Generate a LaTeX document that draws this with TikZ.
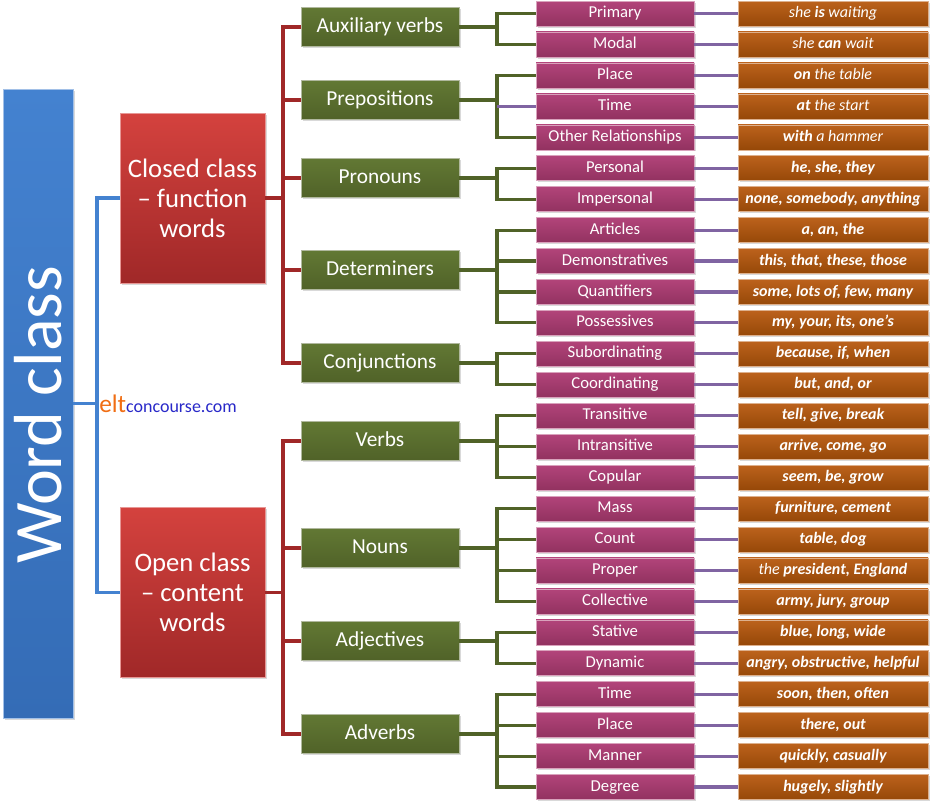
\documentclass[tikz,border=0pt]{standalone}
\usepackage{fontspec}
\setmainfont{Carlito}
\usetikzlibrary{positioning, shadows}
\definecolor{wcblue}{RGB}{52,108,182}
\definecolor{wcbluetop}{RGB}{68,130,208}
\definecolor{classred}{RGB}{160,40,40}
\definecolor{classredtop}{RGB}{212,66,62}
\definecolor{typegreen}{RGB}{80,98,40}
\definecolor{typegreentop}{RGB}{98,120,52}
\definecolor{subpink}{RGB}{146,50,96}
\definecolor{subpinktop}{RGB}{178,68,122}
\definecolor{exorange}{RGB}{150,72,8}
\definecolor{exorangetop}{RGB}{188,98,28}
\definecolor{linepurple}{RGB}{128,100,162}
\definecolor{eltorange}{RGB}{240,110,20}
\definecolor{eltblue}{RGB}{40,40,200}
\newcommand{\lite}[1]{\textmd{#1}}

\begin{document}
\begin{tikzpicture}[
        x=0.75pt, y=-0.75pt,
        node distance=33pt, % orange examples sit 44px right of the pink ones
        box/.style={inner sep=0pt, outer sep=0pt, text=white, align=center,
            drop shadow={shadow xshift=1.2pt, shadow yshift=-1.2pt, opacity=0.3}},
        wordbox/.style={box, top color=wcbluetop, bottom color=wcblue, draw=wcbluetop!50!white,
            minimum width=471.75pt, minimum height=52.5pt, font=\fontsize{51}{53}\selectfont},
        classbox/.style={box, top color=classredtop, bottom color=classred, draw=classredtop!55!white,
            minimum width=108.75pt, minimum height=127.5pt, font=\fontsize{20}{22.5}\selectfont},
        typebox/.style={box, top color=typegreentop, bottom color=typegreen, draw=typegreen!45!white,
            minimum width=118.5pt, minimum height=29.25pt, text height=11pt, text depth=3.5pt,
            font=\fontsize{16}{18}\selectfont},
        subbox/.style={box, top color=subpinktop, bottom color=subpink, draw=subpinktop!50!white,
            minimum width=118.5pt, minimum height=18.75pt, text height=9pt, text depth=3pt,
            font=\fontsize{12.5}{14}\selectfont},
        exbox/.style={box, top color=exorangetop, bottom color=exorange, draw=exorangetop!50!white,
            minimum width=142.5pt, minimum height=18.75pt, text height=9pt, text depth=3pt,
            font=\fontsize{12}{14}\selectfont\bfseries\itshape},
        blueline/.style={draw=wcbluetop, line width=2.3pt},
        redline/.style={draw=classred, line width=2.3pt},
        greenline/.style={draw=typegreen, line width=2.3pt},
        purpleline/.style={draw=linepurple, line width=2.3pt}
    ]
        \useasboundingbox (0,0) rectangle (930,804);

        % --- Root ---
        \node[wordbox, rotate=90] (word) at (38,403.5) {Word class\hspace*{17pt}};
        \node[anchor=west, inner sep=0pt] (site) at (99,404)
            {\fontsize{19}{20}\selectfont\color{eltorange}elt\fontsize{13.5}{15}\selectfont\color{eltblue}concourse.com};

        % --- Closed and open class ---
        \node[classbox] (closed) at (192.5,198) {Closed class\\– function\\words};
        \node[classbox] (open) at (192.5,592.5) {Open class\\– content\\words};
        \draw[blueline] (word.south) -- ++(24,0) |- (closed.west);
        \draw[blueline] (word.south) -- ++(24,0) |- (open.west);

        % --- Word types ---
        \node[typebox] (aux) at (380,27) {Auxiliary verbs};
        \node[typebox] (prep) at (380,100) {Prepositions};
        \node[typebox] (pron) at (380,178) {Pronouns};
        \node[typebox] (det) at (380,270) {Determiners};
        \node[typebox] (conj) at (380,363) {Conjunctions};
        \node[typebox] (verb) at (380,441) {Verbs};
        \node[typebox] (noun) at (380,548) {Nouns};
        \node[typebox] (adj) at (380,641) {Adjectives};
        \node[typebox] (adv) at (380,734) {Adverbs};

        \draw[redline] (closed.east) -- ++(18,0) |- (aux.west);
        \draw[redline] (closed.east) -- ++(18,0) |- (prep.west);
        \draw[redline] (closed.east) -- ++(18,0) |- (pron.west);
        \draw[redline] (closed.east) -- ++(18,0) |- (det.west);
        \draw[redline] (closed.east) -- ++(18,0) |- (conj.west);
        \draw[redline] (open.east) -- ++(18,0) |- (verb.west);
        \draw[redline] (open.east) -- ++(18,0) |- (noun.west);
        \draw[redline] (open.east) -- ++(18,0) |- (adj.west);
        \draw[redline] (open.east) -- ++(18,0) |- (adv.west);

        % --- Subtypes and examples ---
        \node[subbox] (sPrimary) at (615,13.5) {Primary};
        \node[exbox, right=of sPrimary] (ePrimary) {\lite{she} is \lite{waiting}};
        \node[subbox] (sModal) at (615,44.4) {Modal};
        \node[exbox, right=of sModal] (eModal) {\lite{she} can \lite{wait}};
        \node[subbox] (sPlace) at (615,75.4) {Place};
        \node[exbox, right=of sPlace] (ePlace) {on \lite{the table}};
        \node[subbox] (sTime) at (615,106.3) {Time};
        \node[exbox, right=of sTime] (eTime) {at \lite{the start}};
        \node[subbox] (sOther) at (615,137.3) {Other Relationships};
        \node[exbox, right=of sOther] (eOther) {with \lite{a hammer}};
        \node[subbox] (sPersonal) at (615,168.2) {Personal};
        \node[exbox, right=of sPersonal] (ePersonal) {he, she, they};
        \node[subbox] (sImpersonal) at (615,199.1) {Impersonal};
        \node[exbox, right=of sImpersonal] (eImpersonal) {none, somebody, anything};
        \node[subbox] (sArticles) at (615,230.1) {Articles};
        \node[exbox, right=of sArticles] (eArticles) {a, an, the};
        \node[subbox] (sDemonstr) at (615,261.0) {Demonstratives};
        \node[exbox, right=of sDemonstr] (eDemonstr) {this, that, these, those};
        \node[subbox] (sQuant) at (615,292.0) {Quantifiers};
        \node[exbox, right=of sQuant] (eQuant) {some, lots of, few, many};
        \node[subbox] (sPossess) at (615,322.9) {Possessives};
        \node[exbox, right=of sPossess] (ePossess) {my, your, its, one's};
        \node[subbox] (sSubord) at (615,353.8) {Subordinating};
        \node[exbox, right=of sSubord] (eSubord) {because, if, when};
        \node[subbox] (sCoord) at (615,384.8) {Coordinating};
        \node[exbox, right=of sCoord] (eCoord) {but, and, or};
        \node[subbox] (sTrans) at (615,415.7) {Transitive};
        \node[exbox, right=of sTrans] (eTrans) {tell, give, break};
        \node[subbox] (sIntrans) at (615,446.7) {Intransitive};
        \node[exbox, right=of sIntrans] (eIntrans) {arrive, come, go};
        \node[subbox] (sCopular) at (615,477.6) {Copular};
        \node[exbox, right=of sCopular] (eCopular) {seem, be, grow};
        \node[subbox] (sMass) at (615,508.5) {Mass};
        \node[exbox, right=of sMass] (eMass) {furniture, cement};
        \node[subbox] (sCount) at (615,539.5) {Count};
        \node[exbox, right=of sCount] (eCount) {table, dog};
        \node[subbox] (sProper) at (615,570.4) {Proper};
        \node[exbox, right=of sProper] (eProper) {\lite{the} president, England};
        \node[subbox] (sCollect) at (615,601.4) {Collective};
        \node[exbox, right=of sCollect] (eCollect) {army, jury, group};
        \node[subbox] (sStative) at (615,632.3) {Stative};
        \node[exbox, right=of sStative] (eStative) {blue, long, wide};
        \node[subbox] (sDynamic) at (615,663.2) {Dynamic};
        \node[exbox, right=of sDynamic] (eDynamic) {angry, obstructive, helpful};
        \node[subbox] (sAdvTime) at (615,694.2) {Time};
        \node[exbox, right=of sAdvTime] (eAdvTime) {soon, then, often};
        \node[subbox] (sAdvPlace) at (615,725.1) {Place};
        \node[exbox, right=of sAdvPlace] (eAdvPlace) {there, out};
        \node[subbox] (sManner) at (615,756.1) {Manner};
        \node[exbox, right=of sManner] (eManner) {quickly, casually};
        \node[subbox] (sDegree) at (615,787.0) {Degree};
        \node[exbox, right=of sDegree] (eDegree) {hugely, slightly};

        % type -> subtype forks
        \draw[greenline] (aux.east) -- ++(38,0) |- (sPrimary.west);
        \draw[greenline] (aux.east) -- ++(38,0) |- (sModal.west);
        \draw[greenline] (prep.east) -- ++(38,0) |- (sPlace.west);
        \draw[greenline] (prep.east) -- ++(38,0) |- (sOther.west);
        \draw[purpleline] (sTime.west) -- ++(-39,0);
        \draw[greenline] (pron.east) -- ++(38,0) |- (sPersonal.west);
        \draw[greenline] (pron.east) -- ++(38,0) |- (sImpersonal.west);
        \draw[greenline] (det.east) -- ++(38,0) |- (sArticles.west);
        \draw[greenline] (det.east) -- ++(38,0) |- (sDemonstr.west);
        \draw[greenline] (det.east) -- ++(38,0) |- (sQuant.west);
        \draw[greenline] (det.east) -- ++(38,0) |- (sPossess.west);
        \draw[greenline] (conj.east) -- ++(38,0) |- (sSubord.west);
        \draw[greenline] (conj.east) -- ++(38,0) |- (sCoord.west);
        \draw[greenline] (verb.east) -- ++(38,0) |- (sTrans.west);
        \draw[greenline] (verb.east) -- ++(38,0) |- (sIntrans.west);
        \draw[greenline] (verb.east) -- ++(38,0) |- (sCopular.west);
        \draw[greenline] (noun.east) -- ++(38,0) |- (sMass.west);
        \draw[greenline] (noun.east) -- ++(38,0) |- (sCount.west);
        \draw[greenline] (noun.east) -- ++(38,0) |- (sProper.west);
        \draw[greenline] (noun.east) -- ++(38,0) |- (sCollect.west);
        \draw[greenline] (adj.east) -- ++(38,0) |- (sStative.west);
        \draw[greenline] (adj.east) -- ++(38,0) |- (sDynamic.west);
        \draw[greenline] (adv.east) -- ++(38,0) |- (sAdvTime.west);
        \draw[greenline] (adv.east) -- ++(38,0) |- (sAdvPlace.west);
        \draw[greenline] (adv.east) -- ++(38,0) |- (sManner.west);
        \draw[greenline] (adv.east) -- ++(38,0) |- (sDegree.west);

        % subtype -> example links
        \draw[purpleline] (sPrimary) -- (ePrimary);
        \draw[purpleline] (sModal) -- (eModal);
        \draw[purpleline] (sPlace) -- (ePlace);
        \draw[purpleline] (sTime) -- (eTime);
        \draw[purpleline] (sOther) -- (eOther);
        \draw[purpleline] (sPersonal) -- (ePersonal);
        \draw[purpleline] (sImpersonal) -- (eImpersonal);
        \draw[purpleline] (sArticles) -- (eArticles);
        \draw[purpleline] (sDemonstr) -- (eDemonstr);
        \draw[purpleline] (sQuant) -- (eQuant);
        \draw[purpleline] (sPossess) -- (ePossess);
        \draw[purpleline] (sSubord) -- (eSubord);
        \draw[purpleline] (sCoord) -- (eCoord);
        \draw[purpleline] (sTrans) -- (eTrans);
        \draw[purpleline] (sIntrans) -- (eIntrans);
        \draw[purpleline] (sCopular) -- (eCopular);
        \draw[purpleline] (sMass) -- (eMass);
        \draw[purpleline] (sCount) -- (eCount);
        \draw[purpleline] (sProper) -- (eProper);
        \draw[purpleline] (sCollect) -- (eCollect);
        \draw[purpleline] (sStative) -- (eStative);
        \draw[purpleline] (sDynamic) -- (eDynamic);
        \draw[purpleline] (sAdvTime) -- (eAdvTime);
        \draw[purpleline] (sAdvPlace) -- (eAdvPlace);
        \draw[purpleline] (sManner) -- (eManner);
        \draw[purpleline] (sDegree) -- (eDegree);
    \end{tikzpicture}
\end{document}
